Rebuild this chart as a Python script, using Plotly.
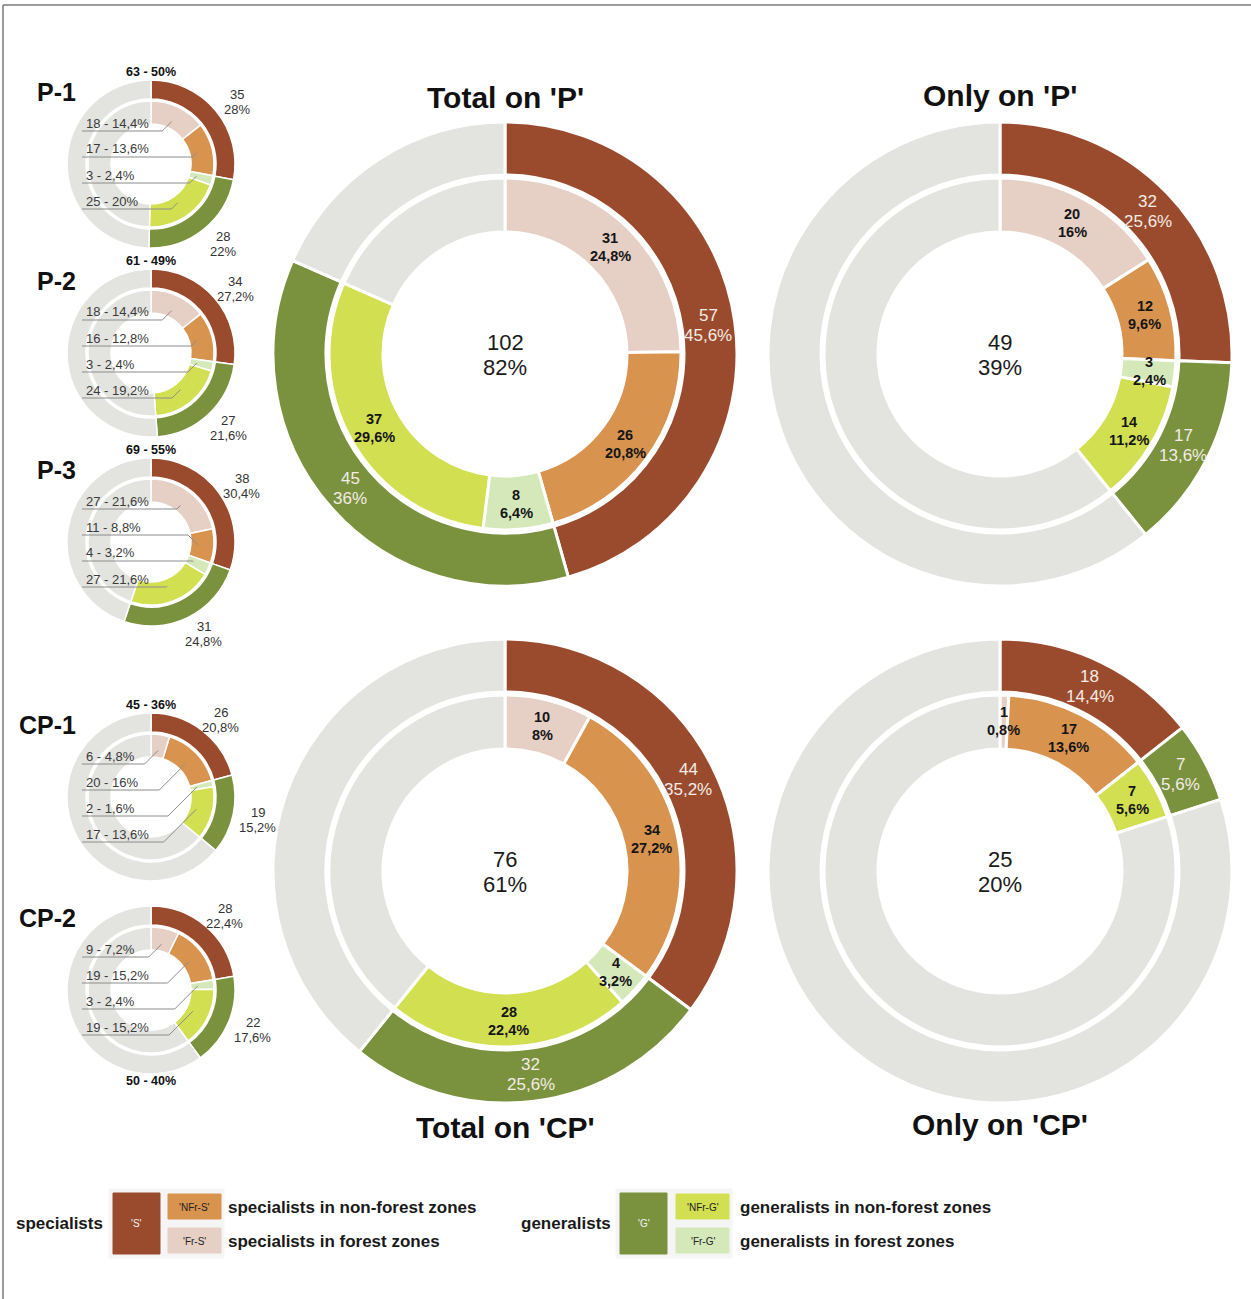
import math
import plotly.graph_objects as go

W, H = 1251, 1299
TOTAL = 125

# ---------------- data ----------------
chart_names = ["P-1", "P-2", "P-3", "CP-1", "CP-2",
               "Total on 'P'", "Only on 'P'", "Total on 'CP'", "Only on 'CP'"]
S_vals    = [35, 34, 38, 26, 28, 57, 32, 44, 18]   # specialists
G_vals    = [28, 27, 31, 19, 22, 45, 17, 32, 7]    # generalists
FrS_vals  = [18, 18, 27, 6, 9, 31, 20, 10, 1]      # specialists in forest zones
NFrS_vals = [17, 16, 11, 20, 19, 26, 12, 34, 17]   # specialists in non-forest zones
FrG_vals  = [3, 3, 4, 2, 3, 8, 3, 4, 0]            # generalists in forest zones
NFrG_vals = [25, 24, 27, 17, 19, 37, 14, 28, 7]    # generalists in non-forest zones
# P-1 outer labels are printed with whole percentages in the original
outer_pct_whole = [True, False, False, False, False, False, False, False, False]

legend_groups = ["specialists", "generalists"]
legend_main = ["'S'", "'G'"]
legend_sub = [["'NFr-S'", "'Fr-S'"], ["'NFr-G'", "'Fr-G'"]]
legend_desc = [["specialists in non-forest zones", "specialists in forest zones"],
               ["generalists in non-forest zones", "generalists in forest zones"]]

# ---------------- styles / layout constants ----------------
C_S, C_G = "#9b4b2d", "#7a923e"
C_FrS, C_NFrS = "#e6cfc5", "#d8934f"
C_FrG, C_NFrG = "#d5e8ba", "#d2df50"
C_REST = "#e3e3e0"
FONT = "Liberation Sans, Arial, sans-serif"

small_centers = [(151, 164), (151, 353), (151, 542), (151, 797), (151, 990)]
big_centers = [(505, 354), (1000, 354), (505, 871), (1000, 871)]
SMALL = dict(R=84, Rh=65, r=63, rh=40, lw=1.5)
BIG = dict(R=232, Rh=179, r=176, rh=122, lw=3)

fig = go.Figure()
annotations = []
shapes = []


def X(px):
    return px / W


def Y(py):
    return 1 - py / H


def pct(v, digits=True):
    p = v * 100.0 / TOTAL
    if not digits:
        return f"{round(p):d}%"
    if abs(p - round(p)) < 1e-9:
        return f"{int(round(p))}%"
    return f"{p:.1f}%".replace(".", ",")


def add_pie(values, colors, cx, cy, r, hole_r, lw):
    fig.add_trace(go.Pie(
        values=values, marker=dict(colors=colors, line=dict(color="white", width=lw)),
        hole=hole_r / r, sort=False, direction="clockwise", rotation=0,
        textinfo="none", hoverinfo="skip", showlegend=False,
        domain=dict(x=[X(cx - r), X(cx + r)], y=[Y(cy + r), Y(cy - r)])))


def ann(px, py, text, size, color="#222", xanchor="center", yanchor="middle", bold=False):
    if bold:
        text = "<b>" + text + "</b>"
    annotations.append(dict(x=X(px), y=Y(py), xref="paper", yref="paper", text=text,
                            showarrow=False, xanchor=xanchor, yanchor=yanchor,
                            font=dict(family=FONT, size=size, color=color)))


def ann2(px, py, t1, t2, size, gap, color, bold=False):
    ann(px, py - gap / 2, t1, size, color, bold=bold)
    ann(px, py + gap / 2, t2, size, color, bold=bold)


def line(x0, y0, x1, y1, color="#8c8c8c", width=1):
    shapes.append(dict(type="line", xref="paper", yref="paper", x0=X(x0), y0=Y(y0),
                       x1=X(x1), y1=Y(y1), line=dict(color=color, width=width), layer="above"))


def rect(x0, y0, x1, y1, fill, lc=None):
    shapes.append(dict(type="rect", xref="paper", yref="paper", x0=X(x0), y0=Y(y0),
                       x1=X(x1), y1=Y(y1), fillcolor=fill,
                       line=dict(color=lc or fill, width=1), layer="above"))


def polar(cx, cy, r, ang):
    return cx + r * math.sin(ang), cy - r * math.cos(ang)


def mids(vals):
    out, c = [], 0
    for v in vals:
        out.append(2 * math.pi * (c + v / 2) / TOTAL)
        c += v
    return out


for i in range(9):
    S, G = S_vals[i], G_vals[i]
    inner = [FrS_vals[i], NFrS_vals[i], FrG_vals[i], NFrG_vals[i]]
    outer_vals = [S, G, TOTAL - S - G]
    inner_vals = inner + [TOTAL - sum(inner)]
    small = i < 5
    g = SMALL if small else BIG
    cx, cy = small_centers[i] if small else big_centers[i - 5]
    add_pie(outer_vals, [C_S, C_G, C_REST], cx, cy, g["R"], g["Rh"], g["lw"])
    add_pie(inner_vals, [C_FrS, C_NFrS, C_FrG, C_NFrG, C_REST], cx, cy, g["r"], g["rh"], g["lw"])
    om = mids(outer_vals)
    im = mids(inner_vals)
    if small:
        ann(78, cy - 72, chart_names[i], 25, "#111", xanchor="right", bold=True)
        tot_y = cy + 91 if chart_names[i] == "CP-2" else cy - 92
        ann(cx, tot_y, f"{S + G} - {pct(S + G, False)}", 12.5, "#111", bold=True)
        for k in range(2):
            px, py = polar(cx, cy, 100, om[k])
            ann2(px + 9, py + 2, str(outer_vals[k]),
                 pct(outer_vals[k], not outer_pct_whole[i]), 13, 15, "#333")
        offs = [-41, -15, 11, 37]
        for k in range(4):
            ly = cy + offs[k]
            ann(84, ly, f"{inner[k]} - {pct(inner[k])}", 13, "#3a3a3a", xanchor="left")
            uy = ly + 8
            px, py = polar(cx, cy, 47, im[k])
            xe = max(px - abs(py - uy), 140)
            xe = min(xe, px)
            line(82, uy, xe, uy)
            line(xe, uy, px, py)
    else:
        title_y = {5: 98, 6: 95, 7: 1127, 8: 1124}[i]
        ann(cx, title_y, chart_names[i], 30, "#111", bold=True)
        ann2(cx, cy + 1, str(S + G), pct(S + G, False), 22, 25, "#1a1a1a")
        for k in range(2):
            if outer_vals[k] > 0:
                px, py = polar(cx, cy, 205, om[k])
                ann2(px, py, str(outer_vals[k]), pct(outer_vals[k]), 17, 20, "#f4ece6")
        for k in range(4):
            if inner[k] > 0:
                px, py = polar(cx, cy, 150, im[k])
                ann2(px, py, str(inner[k]), pct(inner[k]), 14.5, 18, "#151515", bold=True)

# ---------------- legend ----------------
leg_x = [(14, 113, 168, 226), (519, 620, 676, 738)]
main_cols = [C_S, C_G]
sub_cols = [[C_NFrS, C_FrS], [C_NFrG, C_FrG]]
for j in range(2):
    xl, xm, xs, xt = leg_x[j]
    rect(xm - 4, 1189, xs + 56, 1258, "#f5f5f5")
    ann(xl, 1223, legend_groups[j], 17, "#1a1a1a", xanchor="left", bold=True)
    rect(xm, 1193, xm + 47, 1254, main_cols[j])
    ann(xm + 23.5, 1223, legend_main[j], 10, "#f4f4f4")
    for k in range(2):
        y0 = 1194 + k * 34
        rect(xs, y0, xs + 53, y0 + 25, sub_cols[j][k])
        ann(xs + 26.5, y0 + 13, legend_sub[j][k], 10, "#222")
        ann(xt, y0 + 13, legend_desc[j][k], 17, "#1a1a1a", xanchor="left", bold=True)

# frame
line(3, 5, W, 5, "#7a7a7a", 1.5)
line(3, 5, 3, H, "#7a7a7a", 1.5)

fig.update_layout(width=W, height=H, margin=dict(l=0, r=0, t=0, b=0),
                  paper_bgcolor="white", plot_bgcolor="white",
                  annotations=annotations, shapes=shapes, showlegend=False,
                  font=dict(family=FONT))

fig.write_html("out.html", include_plotlyjs=True, config={"displayModeBar": False},
               post_script="document.body.style.margin='0';document.body.style.overflow='hidden';")
